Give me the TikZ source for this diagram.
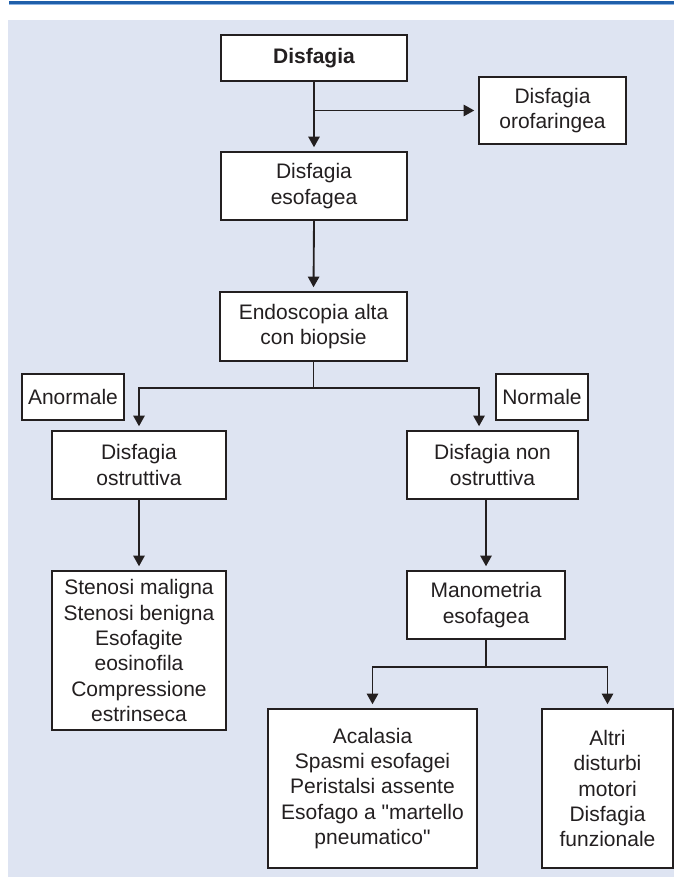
\documentclass[tikz,border=0pt]{standalone}
\usepackage{fontspec}
\setmainfont{Liberation Sans}[Ligatures=TeXOff]
\usepackage{tikz}
\usetikzlibrary{arrows.meta}
\definecolor{myback}{HTML}{DEE4F2}
\definecolor{myrule}{HTML}{1F5FAA}
\definecolor{myrulelight}{HTML}{8DB3E2}
\definecolor{myink}{HTML}{231F20}

\begin{document}
\begin{tikzpicture}[x=0.75pt,y=-0.75pt,
    box/.style={draw=myink,line width=1.1pt,fill=white,text=myink,align=center,inner sep=0pt,
        font=\fontsize{15.75pt}{19pt}\selectfont},
    link/.style={draw=myink,line width=1.4pt,-{Triangle[length=8pt,width=8.5pt]},shorten >=3pt},
    stem/.style={draw=myink,line width=1.4pt}]

\useasboundingbox (0,0) rectangle (674,877);
\fill[myback] (8,20) rectangle (674,877);
\fill[myrule] (9,1) rectangle (674,4);
\fill[myrulelight] (9,4) rectangle (674,5.5);

\node[box,minimum width=139.5pt,minimum height=34.5pt] (dis) at (314,58) {\textbf{Disfagia}};
\node[box,minimum width=110.25pt,minimum height=50.25pt] (oro) at (552.5,110.5) {Disfagia\\orofaringea};
\node[box,minimum width=139.5pt,minimum height=51pt] (eso) at (314,186) {Disfagia\\esofagea};
\node[box,minimum width=140.25pt,minimum height=51.75pt] (endo) at (313.5,326.5) {Endoscopia alta\\con biopsie};

\node[box,minimum width=76.5pt,minimum height=34.5pt] (anorm) at (73,397) {Anormale};
\node[box,minimum width=69pt,minimum height=34.5pt] (norm) at (542,397) {Normale};

\node[box,minimum width=130.5pt,minimum height=51pt] (ostr) at (139,465) {Disfagia\\ostruttiva};
\node[box,minimum width=128.25pt,minimum height=51pt] (nonostr) at (492.5,465) {Disfagia non\\ostruttiva};

\node[box,minimum width=130.5pt,minimum height=119.25pt] (stenosi) at (139,650.5)
    {Stenosi maligna\\Stenosi benigna\\Esofagite\\eosinofila\\Compressione\\estrinseca};
\node[box,minimum width=118.5pt,minimum height=51pt] (mano) at (486,605) {Manometria\\esofagea};

\node[box,minimum width=156.75pt,minimum height=119.25pt] (acal) at (372.5,788.5)
    {Acalasia\\Spasmi esofagei\\Peristalsi assente\\Esofago a "martello\\pneumatico"};
\node[box,minimum width=98.25pt,minimum height=119.25pt] (altri) at (607.5,788.5)
    {Altri\\disturbi\\motori\\Disfagia\\funzionale};

\coordinate (split1) at (313.5,388);
\coordinate (split2) at (486,667);

\draw[link] (dis.south) -- (eso.north);
\draw[link] (dis.south |- oro.west) -- (oro.west);
\draw[link] (eso.south) -- (endo.north);

\draw[stem] (endo.south) -- (split1);
\draw[link] (split1) -| (ostr.north);
\draw[link] (split1) -| ([xshift=-10.1pt]nonostr.north);

\draw[link] (ostr.south) -- (stenosi.north);
\draw[link] (mano.north |- nonostr.south) -- (mano.north);

\draw[stem] (mano.south) -- (split2);
\draw[link] (split2) -| (acal.north);
\draw[link] (split2) -| (altri.north);

\end{tikzpicture}
\end{document}
